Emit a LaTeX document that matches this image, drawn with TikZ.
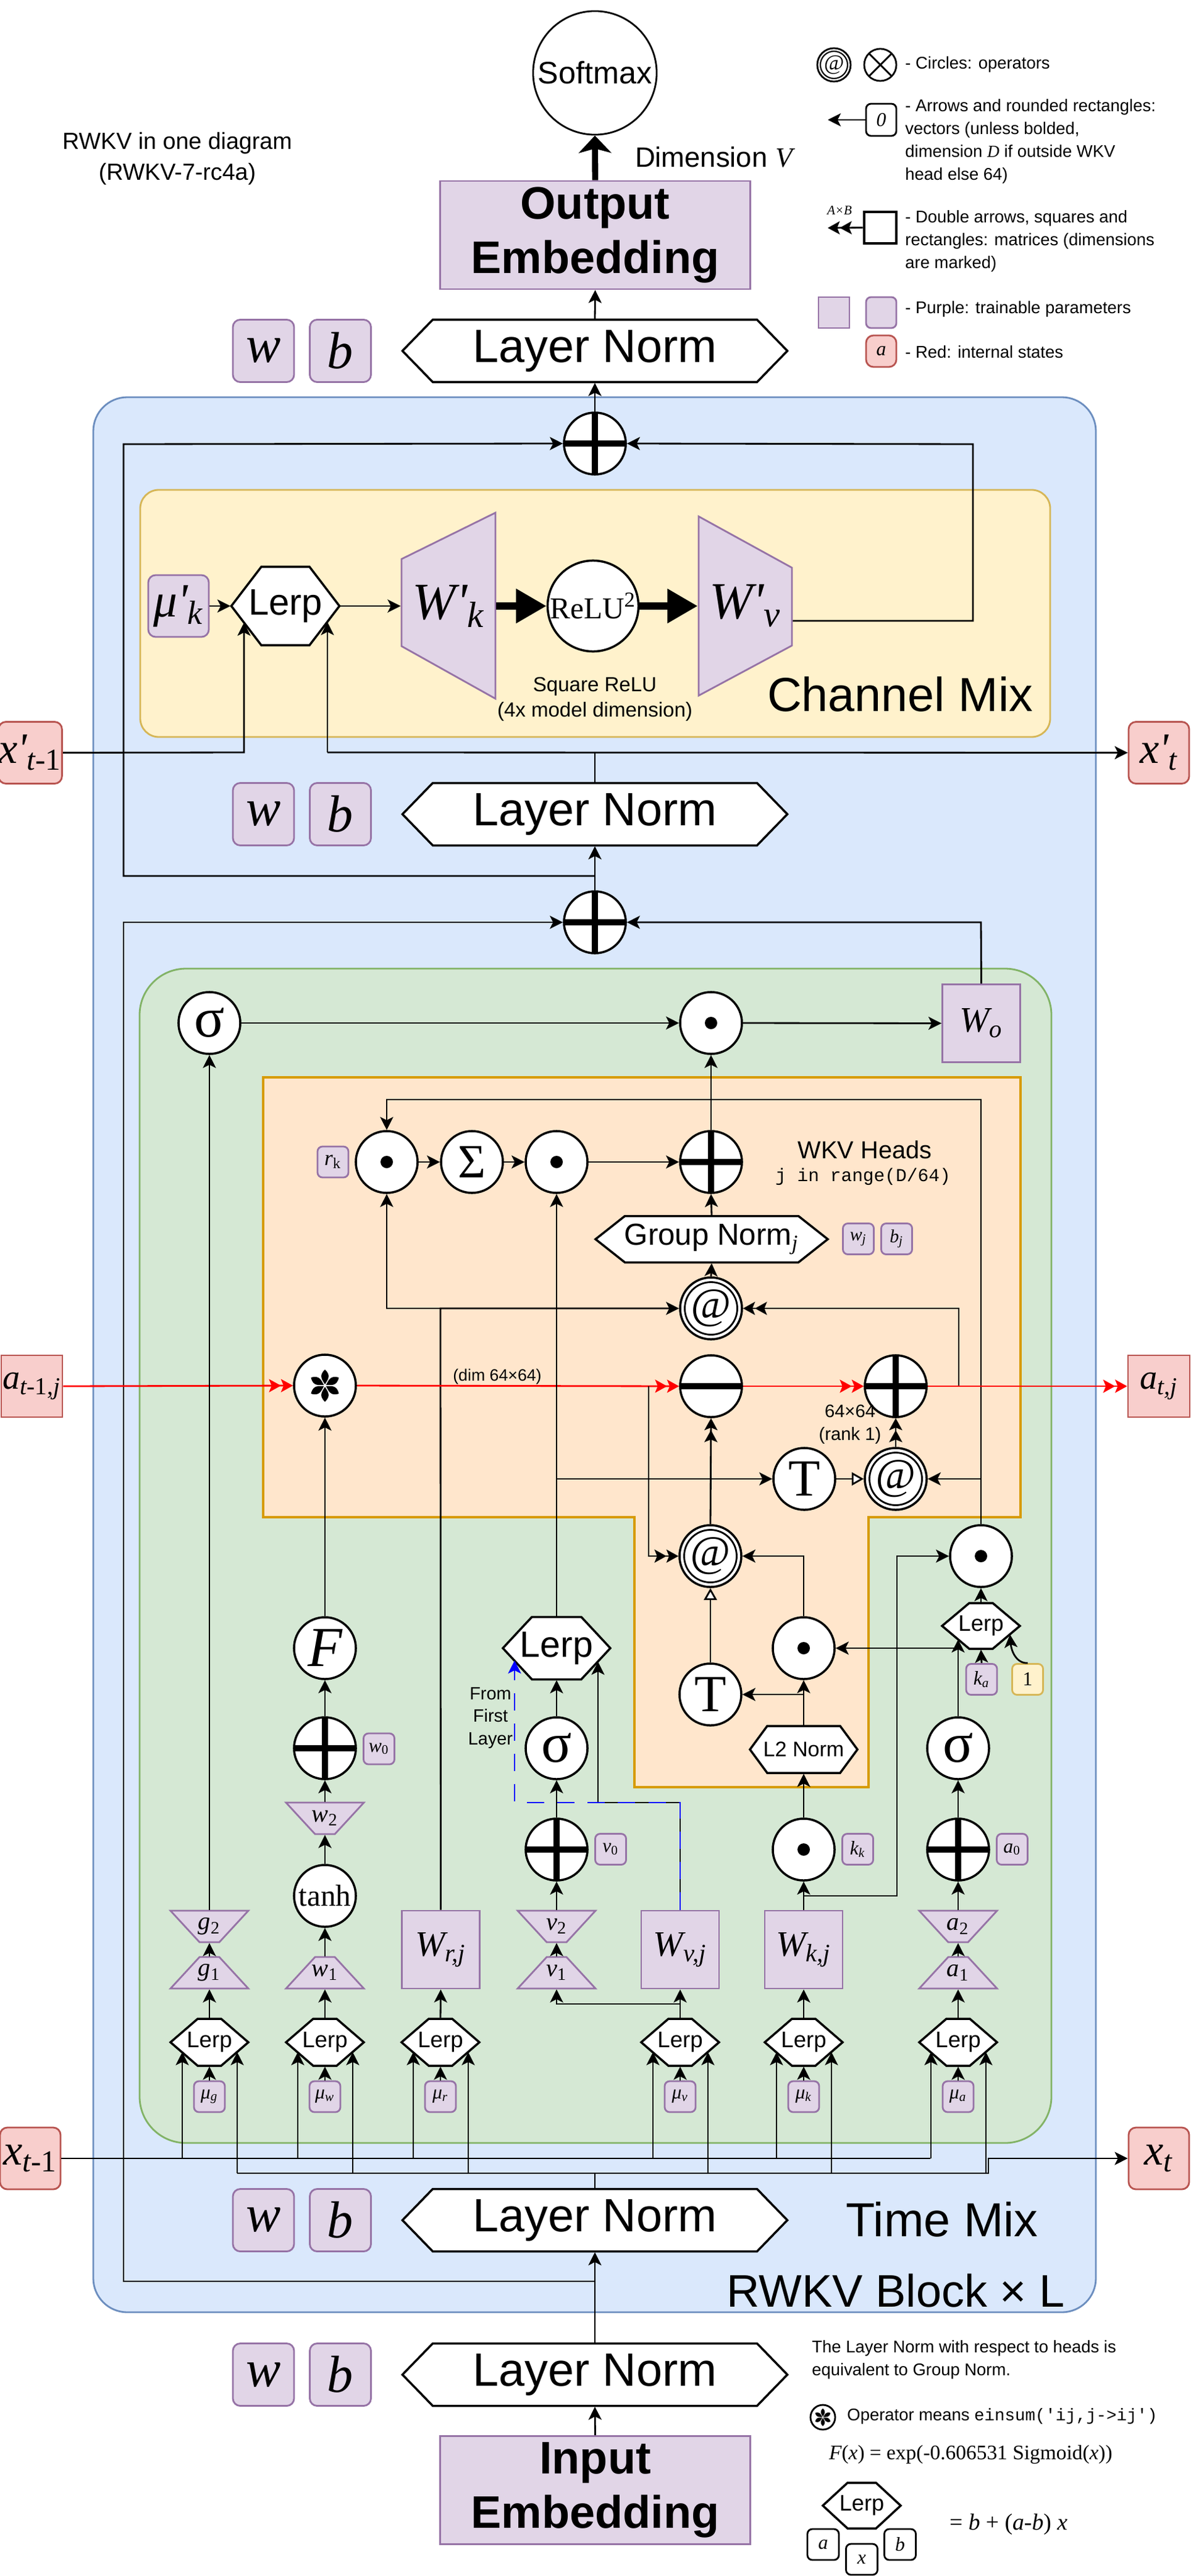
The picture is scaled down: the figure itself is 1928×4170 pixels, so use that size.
\documentclass[tikz,border=0pt]{standalone}
\usepackage{fontspec}
\setmainfont{Liberation Sans}
\setmonofont{Liberation Mono}
\newfontfamily\tms{Liberation Serif}
\usetikzlibrary{arrows.meta,calc}
\definecolor{blueF}{HTML}{DAE8FC}
\definecolor{blueD}{HTML}{6C8EBF}
\definecolor{greenF}{HTML}{D5E8D4}
\definecolor{greenD}{HTML}{82B366}
\definecolor{yelF}{HTML}{FFF2CC}
\definecolor{yelD}{HTML}{D6B656}
\definecolor{orgF}{HTML}{FFE6CC}
\definecolor{orgD}{HTML}{D79B00}
\definecolor{purF}{HTML}{E1D5E7}
\definecolor{purD}{HTML}{9673A6}
\definecolor{redF}{HTML}{F8CECC}
\definecolor{redD}{HTML}{B85450}
\newcommand\fsz[2]{\fontsize{#1}{#2}\selectfont}
\newcommand\mi[1]{{\tms\itshape #1}}
\newcommand\hexnode[8][]{%
  \filldraw[hexline] ({#3-#5},#4) -- ({#3-#5+#7},{#4-#6}) -- ({#3+#5-#7},{#4-#6}) -- ({#3+#5},#4) -- ({#3+#5-#7},{#4+#6}) -- ({#3-#5+#7},{#4+#6}) -- cycle;
  \node[hexbox,minimum width={#5*0.02cm},minimum height={#6*0.02cm},#1] (#2) at (#3,#4) {#8};}
\newcommand\trapnode[7]{%
  \filldraw[purp] ({#2-#5},#3) -- ({#2+#5},#3) -- ({#2+#6},#4) -- ({#2-#6},#4) -- cycle;
  \node[trapbox,minimum height={(#4-#3)*0.01cm}] (#1) at (#2,{(#3+#4)/2}) {#7};}
\begin{document}
\begin{tikzpicture}[x=0.01cm,y=-0.01cm,line width=0.8pt,
    arr/.style={-{Stealth[length=6pt,width=6pt,inset=1.5pt]}},
    darr/.style={-{Stealth[length=5.5pt,width=6pt,inset=1.2pt]Stealth[length=5.5pt,width=6pt,inset=1.2pt]}},
    oarr/.style={-{Triangle[length=5.5pt,width=6pt,fill=white]}},
    rarr/.style={red,darr},
    fatarr/.style={line width=3.4pt,-{Triangle[length=14pt,width=15pt]}},
    op/.style={circle,draw,line width=1pt,fill=white,minimum size=1cm,inner sep=0pt},
    plus/.style={op,path picture={\draw[line width=2.6pt] (path picture bounding box.north) -- (path picture bounding box.south) (path picture bounding box.west) -- (path picture bounding box.east);}},
    minus/.style={op,path picture={\draw[line width=2.6pt] (path picture bounding box.west) -- (path picture bounding box.east);}},
    dot/.style={op,path picture={\fill[black] (path picture bounding box.center) circle (0.1cm);}},
    atop/.style={op,font=\fsz{20}{20}\tms\itshape,path picture={\draw[line width=0.8pt] (path picture bounding box.center) circle (0.425cm);}},
    purp/.style={draw=purD,fill=purF,line width=0.8pt,inner sep=0pt},
    pbox/.style={purp,rounded corners=0.08cm,minimum size=0.5cm,font=\fsz{9}{9}\tms\itshape},
    wbox/.style={purp,rounded corners=0.12cm,minimum width=0.99cm,minimum height=1.01cm,font=\fsz{24}{24}\tms\itshape},
    mbox/.style={purp,minimum width=1.26cm,minimum height=1.26cm,font=\fsz{16.5}{16.5}\tms\itshape},
    sbox/.style={draw=redD,fill=redF,line width=0.8pt,inner sep=0pt,minimum width=0.98cm,minimum height=1cm,rounded corners=0.12cm,font=\fsz{20}{20}\tms\itshape},
    hexline/.style={draw,fill=white,line width=1pt},
    hexbox/.style={inner sep=0pt},
    trapbox/.style={inner sep=0pt,minimum width=0.3cm,font=\fsz{11.5}{11.5}\tms\itshape},
    emb/.style={purp,minimum width=5.01cm,minimum height=1.75cm,align=center,font=\fsz{21}{25}\bfseries},
    note/.style={font=\fsz{7.8}{10.5},align=left,anchor=west,inner sep=0pt}]
\useasboundingbox (0,0) rectangle (1928,4170);

\node[op,minimum size=2cm,line width=0.8pt,font=\fsz{14.3}{14.3}] (sm) at (963,118) {Softmax};
\node[emb] (oe) at (963.5,380.5) {Output\\Embedding};
\node[anchor=west,font=\fsz{12.9}{12.9}] (dimv) at (1015,254) {Dimension \mi{V}};
\hexnode[font=\fsz{21.5}{21.5}]{ln3}{963}{568}{311.5}{50.5}{49}{Layer Norm}
\node[wbox] (w3) at (426.5,568) {w};
\node[wbox] (b3) at (551,568) {b};
\node[align=center,font=\fsz{10.7}{14.2}] (title) at (287,257) {RWKV in one diagram\\(RWKV-7-rc4a)};

\node[op,minimum size=0.54cm,line width=0.8pt,font=\fsz{10}{10}\tms\itshape,path picture={\draw[line width=0.6pt] (path picture bounding box.center) circle (0.22cm);}] (lgat) at (1350,105) {@};
\node[op,minimum size=0.52cm,line width=0.8pt,path picture={\draw (path picture bounding box.north west) -- (path picture bounding box.south east) (path picture bounding box.north east) -- (path picture bounding box.south west);}] (lgx) at (1425,105) {};
\node[note] at (1464,104) {- Circles: operators};
\node[draw,rounded corners=0.08cm,minimum width=0.49cm,minimum height=0.52cm,inner sep=0pt,line width=0.8pt,font=\fsz{9}{9}\tms\itshape] (lg0) at (1426.5,194) {0};
\draw[arr] (lg0.west) -- (1340,194);
\node[note] at (1464,229) {- Arrows and rounded rectangles:\\vectors (unless bolded,\\dimension \mi{D} if outside WKV\\head else 64)};
\node[draw,line width=1.4pt,minimum width=0.52cm,minimum height=0.51cm,inner sep=0pt] (lgm) at (1425,368.5) {};
\draw[darr] (lgm.west) -- (1340,369);
\node[font=\fsz{6}{6}\tms\itshape] (lgab) at (1359,341) {A×B};
\node[note] at (1464,390) {- Double arrows, squares and\\rectangles: matrices (dimensions\\are marked)};
\node[purp,minimum width=0.5cm,minimum height=0.5cm] (lgp1) at (1350,506) {};
\node[purp,rounded corners=0.08cm,minimum width=0.49cm,minimum height=0.5cm] (lgp2) at (1426.5,506) {};
\node[note] at (1464,500) {- Purple: trainable parameters};
\node[sbox,minimum width=0.49cm,minimum height=0.51cm,font=\fsz{9}{9}\tms\itshape] (lgr) at (1426.5,568.5) {a};
\node[note] at (1464,570) {- Red: internal states};

\filldraw[fill=blueF,draw=blueD,rounded corners=0.55cm] (151,643) rectangle (1774,3743);
\filldraw[fill=yelF,draw=yelD,rounded corners=0.3cm] (227,793) rectangle (1700,1193);
\filldraw[fill=greenF,draw=greenD,rounded corners=0.75cm] (226,1568) rectangle (1702,3469);
\filldraw[fill=orgF,draw=orgD,line width=1.4pt] (426,1744) -- (1652,1744) -- (1652,2456) -- (1406,2456) -- (1406,2893) -- (1027,2893) -- (1027,2456) -- (426,2456) -- cycle;

\node[plus] (addC) at (963,718) {};
\node[pbox,minimum width=0.98cm,minimum height=1cm,rounded corners=0.12cm,font=\fsz{22}{22}\tms\itshape] (mukp) at (289,981) {μ'\textsubscript{k}};
\hexnode[font=\fsz{17}{17}]{lc}{462}{981}{87.5}{63.5}{48.5}{Lerp}
\filldraw[purp] (650,905) -- (802,830) -- (802,1131) -- (650,1046) -- cycle;
\node[trapbox,minimum width=1.52cm,minimum height=1.4cm,font=\fsz{24}{24}\tms\itshape] (wk) at (726,981) {W'\textsubscript{k}};
\node[op,minimum size=1.47cm,font=\fsz{14}{14}\tms] (relu) at (960,981) {ReLU\textsuperscript{2}};
\filldraw[purp] (1131,836) -- (1282,919) -- (1282,1045) -- (1131,1126) -- cycle;
\node[trapbox,minimum width=1.51cm,minimum height=1.4cm,font=\fsz{24}{24}\tms\itshape] (wv) at (1206.5,981) {W'\textsubscript{v}};
\node[align=center,font=\fsz{9.4}{11.7}] (sqr) at (963,1132) {Square ReLU\\(4x model dimension)};
\node[font=\fsz{22}{22}] (cmix) at (1457,1124) {Channel Mix};
\node[sbox] (xpp) at (49,1218.5) {x'\textsubscript{t\upshape -1}};
\node[sbox] (xcp) at (1876,1218.5) {x'\textsubscript{t}};
\hexnode[font=\fsz{21.5}{21.5}]{ln2}{963}{1318}{311.5}{50.5}{49}{Layer Norm}
\node[wbox] (w2b) at (426.5,1318) {w};
\node[wbox] (b2b) at (551,1318) {b};
\node[plus] (addT) at (963,1493) {};

\node[op,font=\fsz{26}{26}\tms] (sigG) at (339,1656) {σ};
\node[dot] (dotO) at (1151,1656) {};
\node[mbox] (Wo) at (1588.5,1656.5) {W\textsubscript{o}};
\node[dot] (dotR) at (626,1881) {};
\node[pbox,font=\fsz{10}{10}\tms\itshape] (rk) at (539,1881) {r\textsubscript{\upshape k}};
\node[op,font=\fsz{22}{22}\tms] (sumS) at (764,1881) {Σ};
\node[dot] (dotV) at (901,1881) {};
\node[plus] (addW) at (1151,1881) {};
\node[font=\fsz{11.3}{11.3}] (wkvh) at (1400,1861) {WKV Heads};
\node[font=\fsz{8.4}{8.4}\ttfamily] (jr) at (1397,1905) {j in range(D/64)};
\hexnode[font=\fsz{14}{14}]{gn}{1152}{2006}{188}{37.5}{47.5}{Group Norm\textsubscript{\mi{j}}}
\node[pbox,font=\fsz{8.5}{8.5}\tms\itshape] (wj) at (1389.5,2005.5) {w\textsubscript{j}};
\node[pbox,font=\fsz{8.5}{8.5}\tms\itshape] (bj) at (1451.5,2005.5) {b\textsubscript{j}};
\node[atop] (atU) at (1151,2118) {@};
\node[sbox,rounded corners=0pt,minimum width=0.99cm,font=\fsz{16}{16}\tms\itshape] (aprev) at (51.5,2244) {a\textsubscript{t\upshape -1,\itshape j}};
\node[sbox,rounded corners=0pt,minimum width=1cm,font=\fsz{16}{16}\tms\itshape] (acur) at (1876,2244) {a\textsubscript{t,j}};
\node[op] (star) at (526,2243) {};
\foreach \a in {0,60,...,300}
  \fill[shift={(star.center)},rotate=\a] (0,-2) .. controls (4,-9) and (11,-16) .. (0,-26) .. controls (-11,-16) and (-4,-9) .. (0,-2);
\node[minus] (subS) at (1151,2244) {};
\node[plus] (addS) at (1450,2244) {};
\node[font=\fsz{7.6}{7.6}] (dimlab) at (805,2229) {(dim 64×64)};
\node[align=center,font=\fsz{8.3}{10.5}] (rank) at (1376,2306) {64×64\\(rank 1)};
\node[op,font=\fsz{24}{24}\tms] (tV) at (1302,2394) {T};
\node[atop] (atR) at (1450,2394) {@};
\node[atop] (atL) at (1150,2519) {@};
\node[dot] (dotA) at (1588,2519) {};
\hexnode[font=\fsz{10.4}{10.4}]{lra}{1588}{2632}{63}{37}{44}{Lerp}
\node[pbox] (ka) at (1589,2718.5) {k\textsubscript{a}};
\node[pbox,draw=yelD,fill=yelF,font=\fsz{9}{9}\tms] (one) at (1663.5,2718.5) {1};
\node[dot] (dotM) at (1301,2668) {};
\node[op,font=\fsz{24}{24}\tms] (tL) at (1150,2743) {T};
\hexnode[font=\fsz{9.7}{9.7}]{l2n}{1301}{2832}{87}{38}{28}{L2 Norm}
\node[op,font=\fsz{26}{26}\tms] (sigA) at (1551,2830) {σ};
\hexnode[font=\fsz{16.8}{16.8}]{lvf}{901}{2668}{87}{50.5}{47}{Lerp}
\node[op,font=\fsz{26}{26}\tms] (sigV) at (901,2830) {σ};
\node[align=center,font=\fsz{8.2}{10.4}] (ffl) at (794,2781) {From\\First\\Layer};
\node[op,font=\fsz{26}{26}\tms\itshape] (Fn) at (526,2668) {F};
\node[plus] (addW0) at (526,2830) {};
\node[pbox] (w0) at (613.5,2831) {w\textsubscript{\upshape 0}};
\node[plus] (addV0) at (901,2994) {};
\node[pbox] (v0) at (988.5,2993.5) {v\textsubscript{\upshape 0}};
\node[dot] (dotK) at (1301,2994) {};
\node[pbox] (kk) at (1388.5,2993.5) {k\textsubscript{k}};
\node[plus] (addA0) at (1551,2994) {};
\node[pbox] (a0) at (1638.5,2993.5) {a\textsubscript{\upshape 0}};
\node[op,font=\fsz{14}{14}\tms] (tanh) at (526,3069) {tanh};
\trapnode{w2}{526}{2918}{2969}{63}{16}{w\textsubscript{\upshape 2}}
\trapnode{w1}{526}{3168}{3219}{16}{63}{w\textsubscript{\upshape 1}}
\trapnode{g2}{339}{3093}{3144}{63}{16}{g\textsubscript{\upshape 2}}
\trapnode{g1}{339}{3168}{3219}{16}{63}{g\textsubscript{\upshape 1}}
\trapnode{v2}{901}{3093}{3144}{63}{16}{v\textsubscript{\upshape 2}}
\trapnode{v1}{901}{3168}{3219}{16}{63}{v\textsubscript{\upshape 1}}
\trapnode{a2}{1551}{3093}{3144}{63}{16}{a\textsubscript{\upshape 2}}
\trapnode{a1}{1551}{3168}{3219}{16}{63}{a\textsubscript{\upshape 1}}
\node[mbox] (Wrj) at (713.5,3156) {W\textsubscript{r,j}};
\node[mbox] (Wvj) at (1101,3156) {W\textsubscript{v,j}};
\node[mbox] (Wkj) at (1301,3156) {W\textsubscript{k,j}};
\foreach \s/\x in {g/339,w/526,r/713,v/1101,k/1301,a/1551}{
  \hexnode[font=\fsz{10.4}{10.4}]{l\s}{\x}{3306}{63}{38}{44}{Lerp}
  \node[pbox] (m\s) at (\x,3394) {μ\textsubscript{\s}};
}
\node[sbox] (xp) at (49,3494) {x\textsubscript{t\upshape -1}};
\node[sbox] (xc) at (1876,3494) {x\textsubscript{t}};
\hexnode[font=\fsz{21.5}{21.5}]{ln1}{963}{3594}{311.5}{50.5}{49}{Layer Norm}
\node[wbox] (w1b) at (426.5,3594) {w};
\node[wbox] (b1b) at (551,3594) {b};
\node[font=\fsz{22}{22}] (tmix) at (1525,3593) {Time Mix};
\node[font=\fsz{21}{21}] (blk) at (1450,3708) {RWKV Block × L};
\hexnode[font=\fsz{21.5}{21.5}]{ln0}{963}{3844}{311.5}{50.5}{49}{Layer Norm}
\node[wbox] (w0b) at (426.5,3844) {w};
\node[wbox] (b0b) at (551,3844) {b};
\node[emb] (ie) at (963.5,4031) {Input\\Embedding};

\node[note] (nln) at (1313,3820) {The Layer Norm with respect to heads is\\equivalent to Group Norm.};
\node[op,minimum size=0.4cm,line width=0.8pt] (lgs) at (1332,3913) {};
\foreach \a in {0,60,...,300}
  \fill[shift={(lgs.center)},rotate=\a,scale=0.55] (0,-2) .. controls (4,-9) and (11,-16) .. (0,-26) .. controls (-11,-16) and (-4,-9) .. (0,-2);
\node[note] (nop) at (1370,3911) {Operator means {\ttfamily einsum('ij,j->ij')}};
\node[anchor=west,font=\fsz{9.5}{9.5}\tms] (feq) at (1329,3973) {\mi{F}(\mi{x}) = exp(-0.606531 Sigmoid(\mi{x}))};
\hexnode[font=\fsz{10.3}{10.3}]{lgl}{1395}{4056}{63}{37}{40}{Lerp}
\node[draw,fill=white,rounded corners=0.08cm,minimum width=0.51cm,minimum height=0.5cm,inner sep=0pt,line width=0.8pt,font=\fsz{9}{9}\tms\itshape] (lga) at (1332.5,4119) {a};
\node[draw,fill=white,rounded corners=0.08cm,minimum width=0.51cm,minimum height=0.5cm,inner sep=0pt,line width=0.8pt,font=\fsz{9}{9}\tms\itshape] (lgxx) at (1395,4143) {x};
\node[draw,fill=white,rounded corners=0.08cm,minimum width=0.51cm,minimum height=0.5cm,inner sep=0pt,line width=0.8pt,font=\fsz{9}{9}\tms\itshape] (lgb) at (1457,4119) {b};
\node[anchor=west,font=\fsz{10.7}{10.7}\tms] (leq) at (1524,4086) {= \mi{b} + (\mi{a}-\mi{b}) \mi{x}};

\draw[line width=2.8pt,-{Stealth[length=8pt,width=15pt,inset=2pt]}] (oe.north) -- (sm.south);
\draw[arr] (ln3.north) -- (oe.south);
\draw[arr] (addC.north) -- (ln3.south);
\draw[arr] (963,1418) -- (200,1418) -- (200,719) -- (addC.west);
\draw[arr] ([yshift=-0.24cm]wv.east) -- (1575,1005) -- (1575,719) -- (addC.east);
\draw[arr] (mukp.east) -- (lc.west);
\draw[arr] (lc.east) -- (wk.west);
\draw[fatarr] (wk.east) -- (relu.west);
\draw[fatarr] (relu.east) -- (wv.west);
\draw (ln2.north) -- (963,1218);
\draw[arr] (530,1218) -- (xcp.west);
\draw[arr] (530,1218) -- ($(lc.center)+(68,26)$);
\draw[arr] (xpp.east) -- (395,1218) -- ($(lc.center)+(-67,27)$);
\draw[arr] (addT.north) -- (ln2.south);
\draw[arr] (963,3693) -- (200,3693) -- (200,1493) -- (addT.west);
\draw[arr] (Wo.north) -- (1588,1493) -- (addT.east);

\draw[arr] (sigG.east) -- (dotO.west);
\draw[arr] (dotO.east) -- (Wo.west);
\draw[arr] (addW.north) -- (dotO.south);
\draw[arr] (dotR.east) -- (sumS.west);
\draw[arr] (sumS.east) -- (dotV.west);
\draw[arr] (dotV.east) -- (addW.west);
\draw[arr] (gn.north) -- (addW.south);
\draw[arr] (atU.north) -- (gn.south);
\draw[arr] (dotA.north) -- (1588,1780) -- (626,1780) -- (dotR.north);
\draw[arr] (1588,2394) -- (atR.east);
\draw[darr] (1552,2244) -- (1552,2118) -- (atU.east);
\draw[arr] (Wrj.north) -- (713,2118) -- (atU.west);
\draw[arr] (713,2118) -- (626,2118) -- (dotR.south);
\draw[rarr] (aprev.east) -- (star.west);
\draw[rarr] (star.east) -- (subS.west);
\draw[rarr] (subS.east) -- (addS.west);
\draw[rarr] (addS.east) -- (acur.west);
\draw[darr] (1050,2244) -- (1050,2519) -- (atL.west);
\draw[darr] (atL.north) -- (subS.south);
\draw[darr] (atR.north) -- (addS.south);
\draw[oarr] (tV.east) -- (atR.west);
\draw[oarr] (tL.north) -- (atL.south);
\draw[arr] (dotM.north) -- (1301,2519) -- (atL.east);
\draw[arr] (l2n.north) -- (dotM.south);
\draw[arr] (1301,2743) -- (tL.east);
\draw[arr] (dotK.north) -- (l2n.south);
\draw[arr] (Wkj.north) -- (dotK.south);
\draw[arr] (1301,3069) -- (1452,3069) -- (1452,2519) -- (dotA.west);
\draw[arr] (lra.north) -- (dotA.south);
\draw[arr] (ka.north) -- (lra.south);
\draw[arr] (one.north) .. controls (1645,2693) and (1637,2672) .. ($(lra.center)+(47,14)$);
\draw[arr] (sigA.north) -- ($(lra.center)+(-37,22)$);
\draw[arr] (1551,2668) -- (dotM.east);
\draw[arr] (addA0.north) -- (sigA.south);
\draw[arr] (a2.north) -- (addA0.south);
\draw[arr] (a1.north) -- (a2.south);
\draw[arr] (la.north) -- (a1.south);
\draw[arr] (lk.north) -- (Wkj.south);
\draw[arr] (lv.north) -- (Wvj.south);
\draw[arr] (1101,3244) -- (901,3244) -- (v1.south);
\draw[arr] (v1.north) -- (v2.south);
\draw[arr] (v2.north) -- (addV0.south);
\draw[arr] (addV0.north) -- (sigV.south);
\draw[arr] (sigV.north) -- (lvf.south);
\draw[arr] (lvf.north) -- (dotV.south);
\draw[arr] (901,2394) -- (tV.west);
\draw[arr] (Wvj.north) -- (1101,2918) -- (968,2918) -- ($(lvf.center)+(67,22)$);
\draw[blue,dash pattern=on 8pt off 6pt,-{Stealth[length=6pt,width=6pt,inset=1.5pt]}] (Wvj.north) -- (1101,2918) -- (833,2918) -- ($(lvf.center)+(-68,20)$);
\draw[arr] (lr.north) -- (Wrj.south);
\draw[arr] (lw.north) -- (w1.south);
\draw[arr] (w1.north) -- (tanh.south);
\draw[arr] (tanh.north) -- (w2.south);
\draw[arr] (w2.north) -- (addW0.south);
\draw[arr] (addW0.north) -- (Fn.south);
\draw[arr] (Fn.north) -- (star.south);
\draw[arr] (lg.north) -- (g1.south);
\draw[arr] (g1.north) -- (g2.south);
\draw[arr] (g2.north) -- (sigG.south);
\draw (xp.east) -- (1506,3494);
\draw (384,3518) -- (963,3518);
\draw[arr] (ln1.north) -- (963,3518) -- (1600,3518) -- (1600,3494) -- (xc.west);
\foreach \s in {g,w,r,v,k,a}{
  \draw[arr] ($(l\s.center)+(-44,188)$) -- ($(l\s.center)+(-44,16)$);
  \draw[arr] ($(l\s.center)+(45,212)$) -- ($(l\s.center)+(45,16)$);
  \draw[arr] (m\s.north) -- (l\s.south);
}
\draw[arr] (ln0.north) -- (ln1.south);
\draw[arr] (ie.north) -- (ln0.south);
\end{tikzpicture}
\end{document}
